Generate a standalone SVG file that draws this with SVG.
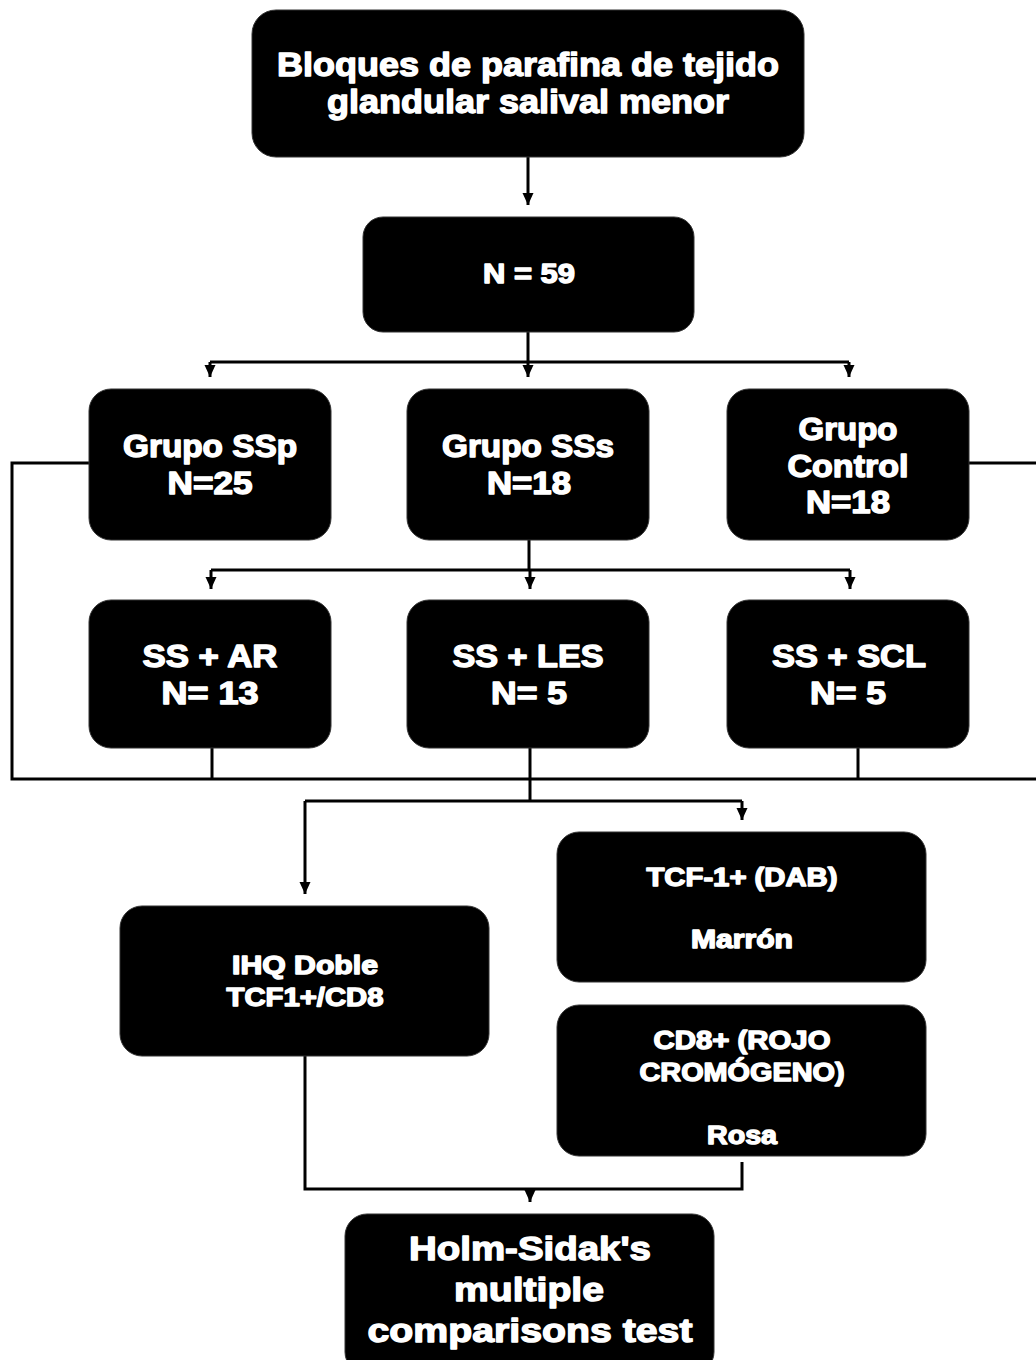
<svg xmlns="http://www.w3.org/2000/svg" width="1036" height="1360" viewBox="0 0 1036 1360">
<defs>
<marker id="arr" markerWidth="14" markerHeight="14" refX="12" refY="6.5" orient="auto" markerUnits="userSpaceOnUse">
<path d="M0,1 L12,6.5 L0,12 Z" fill="#000"/>
</marker>
<style>
.box{fill:#000;stroke:#333;stroke-width:1}
.t{font-family:"Liberation Sans",Arial,sans-serif;font-weight:bold;fill:#fff;stroke:#fff;stroke-width:1.4;stroke-linejoin:round;text-anchor:middle}
.c{fill:none;stroke:#000;stroke-width:3}
</style>
</defs>
<rect width="1036" height="1360" fill="#fff"/>
<g id="connectors">
<path class="c" d="M528,157 V205" marker-end="url(#arr)"/>
<path class="c" d="M528,332 V362"/>
<path class="c" d="M210,362 H849"/>
<path class="c" d="M210,362 V377" marker-end="url(#arr)"/>
<path class="c" d="M528,362 V377" marker-end="url(#arr)"/>
<path class="c" d="M849,362 V377" marker-end="url(#arr)"/>
<path class="c" d="M529,540 V570"/>
<path class="c" d="M211,570 H850"/>
<path class="c" d="M211,570 V589" marker-end="url(#arr)"/>
<path class="c" d="M530,570 V589" marker-end="url(#arr)"/>
<path class="c" d="M850,570 V589" marker-end="url(#arr)"/>
<path class="c" d="M89,463 H12 V779 H1036"/>
<path class="c" d="M969,463 H1036"/>
<path class="c" d="M212,748 V779"/>
<path class="c" d="M858,748 V779"/>
<path class="c" d="M530,748 V801"/>
<path class="c" d="M305,801 H742"/>
<path class="c" d="M305,801 V894" marker-end="url(#arr)"/>
<path class="c" d="M742,801 V820" marker-end="url(#arr)"/>
<path class="c" d="M305,1056 V1189 H742 V1162"/>
<path class="c" d="M530,1189 V1202" marker-end="url(#arr)"/>
</g>
<g id="n-top"><rect class="box" x="252" y="10" width="552" height="147" rx="24"/>
<text class="t" x="528" y="76" font-size="34" textLength="502" lengthAdjust="spacingAndGlyphs">Bloques de parafina de tejido</text>
<text class="t" x="528" y="113" font-size="34" textLength="402" lengthAdjust="spacingAndGlyphs">glandular salival menor</text></g>
<g id="n-n59"><rect class="box" x="363" y="217" width="331" height="115" rx="20"/>
<text class="t" x="529" y="283" font-size="28" textLength="92" lengthAdjust="spacingAndGlyphs">N = 59</text></g>
<g id="n-ssp"><rect class="box" x="89" y="389" width="242" height="151" rx="22"/>
<text class="t" x="210" y="457" font-size="31" textLength="174" lengthAdjust="spacingAndGlyphs">Grupo SSp</text>
<text class="t" x="210" y="494" font-size="31" textLength="85" lengthAdjust="spacingAndGlyphs">N=25</text></g>
<g id="n-sss"><rect class="box" x="407" y="389" width="242" height="151" rx="22"/>
<text class="t" x="528" y="457" font-size="31" textLength="172" lengthAdjust="spacingAndGlyphs">Grupo SSs</text>
<text class="t" x="529" y="494" font-size="31" textLength="84" lengthAdjust="spacingAndGlyphs">N=18</text></g>
<g id="n-control"><rect class="box" x="727" y="389" width="242" height="151" rx="22"/>
<text class="t" x="848" y="440" font-size="31" textLength="99" lengthAdjust="spacingAndGlyphs">Grupo</text>
<text class="t" x="848" y="477" font-size="31" textLength="121" lengthAdjust="spacingAndGlyphs">Control</text>
<text class="t" x="848" y="513" font-size="31" textLength="84" lengthAdjust="spacingAndGlyphs">N=18</text></g>
<g id="n-ar"><rect class="box" x="89" y="600" width="242" height="148" rx="22"/>
<text class="t" x="210" y="667" font-size="31" textLength="135" lengthAdjust="spacingAndGlyphs">SS + AR</text>
<text class="t" x="210" y="704" font-size="31" textLength="97" lengthAdjust="spacingAndGlyphs">N= 13</text></g>
<g id="n-les"><rect class="box" x="407" y="600" width="242" height="148" rx="22"/>
<text class="t" x="528" y="667" font-size="31" textLength="151" lengthAdjust="spacingAndGlyphs">SS + LES</text>
<text class="t" x="529" y="704" font-size="31" textLength="76" lengthAdjust="spacingAndGlyphs">N= 5</text></g>
<g id="n-scl"><rect class="box" x="727" y="600" width="242" height="148" rx="22"/>
<text class="t" x="849" y="667" font-size="31" textLength="154" lengthAdjust="spacingAndGlyphs">SS + SCL</text>
<text class="t" x="848" y="704" font-size="31" textLength="76" lengthAdjust="spacingAndGlyphs">N= 5</text></g>
<g id="n-ihq"><rect class="box" x="120" y="906" width="369" height="150" rx="22"/>
<text class="t" x="305" y="974" font-size="25" textLength="146" lengthAdjust="spacingAndGlyphs">IHQ Doble</text>
<text class="t" x="305" y="1006" font-size="25" textLength="157" lengthAdjust="spacingAndGlyphs">TCF1+/CD8</text></g>
<g id="n-tcf"><rect class="box" x="557" y="832" width="369" height="150" rx="22"/>
<text class="t" x="742" y="886" font-size="25" textLength="191" lengthAdjust="spacingAndGlyphs">TCF-1+ (DAB)</text>
<text class="t" x="742" y="948" font-size="25" textLength="102" lengthAdjust="spacingAndGlyphs">Marrón</text></g>
<g id="n-cd8"><rect class="box" x="557" y="1005" width="369" height="151" rx="22"/>
<text class="t" x="742" y="1049" font-size="25" textLength="177" lengthAdjust="spacingAndGlyphs">CD8+ (ROJO</text>
<text class="t" x="742" y="1081" font-size="25" textLength="205" lengthAdjust="spacingAndGlyphs">CROMÓGENO)</text>
<text class="t" x="742" y="1144" font-size="25" textLength="70" lengthAdjust="spacingAndGlyphs">Rosa</text></g>
<g id="n-holm"><rect class="box" x="345" y="1214" width="369" height="160" rx="22"/>
<text class="t" x="530" y="1260" font-size="34" textLength="242" lengthAdjust="spacingAndGlyphs">Holm-Sidak's</text>
<text class="t" x="529" y="1301" font-size="34" textLength="150" lengthAdjust="spacingAndGlyphs">multiple</text>
<text class="t" x="530" y="1342" font-size="34" textLength="325" lengthAdjust="spacingAndGlyphs">comparisons test</text></g>
</svg>
